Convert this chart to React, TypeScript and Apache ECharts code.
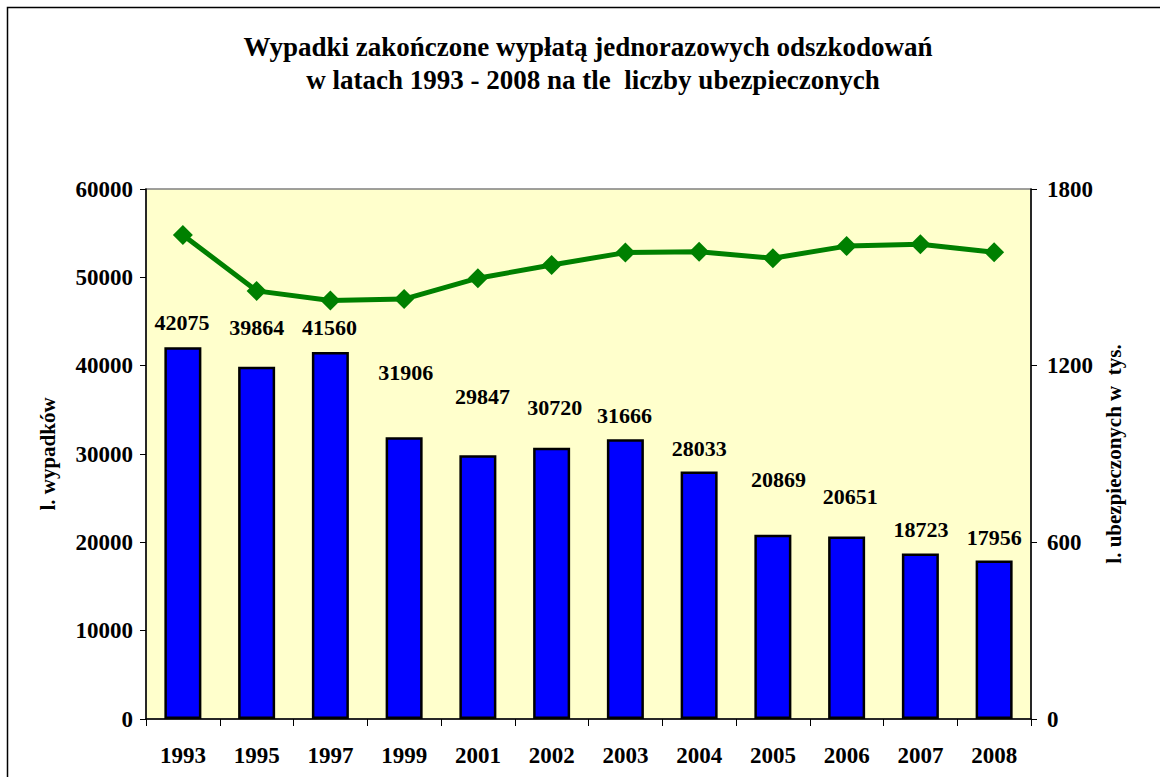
import React, { useEffect, useRef } from "react";
import * as echarts from "echarts";

const years = ["1993", "1995", "1997", "1999", "2001", "2002", "2003", "2004", "2005", "2006", "2007", "2008"];
const accidents = [42075, 39864, 41560, 31906, 29847, 30720, 31666, 28033, 20869, 20651, 18723, 17956];
const insured = [1644, 1454, 1421, 1426, 1497, 1542, 1584, 1587, 1565, 1606, 1612, 1585];
const leftTicks = [0, 10000, 20000, 30000, 40000, 50000, 60000];
const rightTicks = [0, 600, 1200, 1800];
// label nudges (styling only), [dx, dy] in px
const labelNudges: [number, number][] = [
  [-1, -9], [0, -23], [-1, -8], [1.5, -49], [4.5, -43], [3, -24],
  [-1, -8], [0, -7], [5.5, -39], [3.5, -24], [0.5, -8], [0, -7],
];

const FONT = "Liberation Serif";

export default function App() {
  const ref = useRef<HTMLDivElement>(null);
  useEffect(() => {
    if (!ref.current) return;
    const chart = echarts.init(ref.current, null, { renderer: "svg" });
    const titleStyle = {
      fontFamily: FONT,
      fontSize: 27,
      fontWeight: "bold",
      fill: "#000",
      textAlign: "center",
      textVerticalAlign: "middle",
    };
    const option: any = {
      animation: false,
      backgroundColor: "#ffffff",
      textStyle: { fontFamily: FONT },
      graphic: [
        {
          type: "rect",
          shape: { x: 7.5, y: 7.5, width: 1300, height: 900 },
          style: { fill: "none", stroke: "#000", lineWidth: 1.5 },
          silent: true,
        },
        {
          type: "text",
          x: 588,
          y: 47,
          style: { ...titleStyle, text: "Wypadki zakończone wypłatą jednorazowych odszkodowań" },
        },
        {
          type: "text",
          x: 593,
          y: 80,
          style: { ...titleStyle, text: "w latach 1993 - 2008 na tle  liczby ubezpieczonych" },
        },
      ],
      grid: {
        left: 146,
        right: 129,
        top: 189,
        bottom: 58,
        show: true,
        backgroundColor: "#FFFFCC",
        borderColor: "#808080",
        borderWidth: 1.5,
      },
      xAxis: {
        type: "category",
        data: years,
        boundaryGap: true,
        axisLine: { lineStyle: { color: "#000", width: 1.5 } },
        axisTick: { show: true, length: 7, lineStyle: { color: "#000" } },
        axisLabel: { color: "#000", fontSize: 23, fontWeight: "bold", margin: 25, fontFamily: FONT },
      },
      yAxis: [
        {
          type: "value",
          min: leftTicks[0],
          max: leftTicks[leftTicks.length - 1],
          interval: leftTicks[1] - leftTicks[0],
          name: "l. wypadków",
          nameLocation: "middle",
          nameRotate: 90,
          nameGap: 88,
          nameTextStyle: { color: "#000", fontSize: 21, fontWeight: "bold", fontFamily: FONT },
          axisLine: { show: true, lineStyle: { color: "#000", width: 1.5 } },
          axisTick: { show: true, length: 6, lineStyle: { color: "#000" } },
          axisLabel: {
            color: "#000",
            fontSize: 23,
            fontWeight: "bold",
            margin: 13,
            fontFamily: FONT,
            formatter: (v: number) => String(v),
          },
          splitLine: { show: false },
        },
        {
          type: "value",
          min: rightTicks[0],
          max: rightTicks[rightTicks.length - 1],
          interval: rightTicks[1] - rightTicks[0],
          position: "right",
          name: "l. ubezpieczonych w  tys.",
          nameLocation: "middle",
          nameRotate: 90,
          nameGap: 72,
          nameTextStyle: { color: "#000", fontSize: 21, fontWeight: "bold", fontFamily: FONT },
          axisLine: { show: true, lineStyle: { color: "#000", width: 1.5 } },
          axisTick: { show: true, length: 6, lineStyle: { color: "#000" } },
          axisLabel: {
            color: "#000",
            fontSize: 23,
            fontWeight: "bold",
            margin: 16,
            fontFamily: FONT,
            formatter: (v: number) => String(v),
          },
          splitLine: { show: false },
        },
      ],
      series: [
        {
          type: "bar",
          yAxisIndex: 0,
          barWidth: 37,
          data: accidents.map((v, i) => ({
            value: v,
            label: { offset: labelNudges[i] },
          })),
          itemStyle: { color: "#0000FF", borderColor: "#000", borderWidth: 2.5 },
          label: {
            show: true,
            position: "top",
            distance: 5,
            color: "#000",
            fontSize: 22,
            fontWeight: "bold",
            fontFamily: FONT,
          },
        },
        {
          type: "line",
          yAxisIndex: 1,
          data: insured,
          symbol: "diamond",
          symbolSize: 20,
          lineStyle: { color: "#008000", width: 5 },
          itemStyle: { color: "#008000" },
          z: 5,
        },
      ],
    };
    chart.setOption(option);
    return () => chart.dispose();
  }, []);
  return (
    <div
      ref={ref}
      style={{ position: "fixed", left: 0, top: 0, width: 1160, height: 777 }}
    />
  );
}
